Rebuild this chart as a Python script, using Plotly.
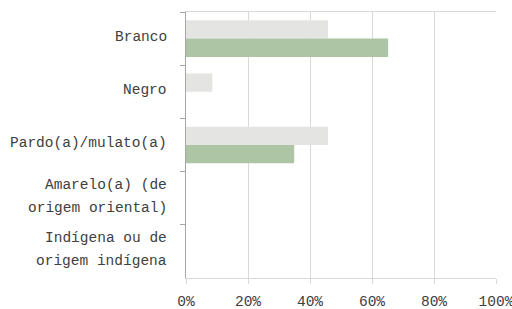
import plotly.graph_objects as go

categories = ["Branco", "Negro", "Pardo(a)/mulato(a)",
              "Amarelo(a) (de<br>origem oriental)",
              "Indígena ou de<br>origem indígena"]
series_a = [0.458, 0.085, 0.458, 0.0, 0.0]   # light gray
series_b = [0.652, 0.0, 0.349, 0.0, 0.0]     # green
x_ticks = [0, 0.2, 0.4, 0.6, 0.8, 1.0]
x_labels = ["0%", "20%", "40%", "60%", "80%", "100%"]

FONT = "Courier New, Liberation Mono, monospace"
FS = 14.5

fig = go.Figure()
fig.add_trace(go.Bar(y=categories, x=series_a, orientation="h",
                     marker=dict(color="#E4E5E2", line=dict(width=0))))
fig.add_trace(go.Bar(y=categories, x=series_b, orientation="h",
                     marker=dict(color="#ADC5A5", line=dict(width=0))))

annotations = []
for c in categories:
    lines = c.split("<br>")
    n = len(lines)
    for i, ln in enumerate(lines):
        shift = (-(i - (n - 1) / 2) * 23) + 2
        annotations.append(dict(x=0, xref="paper", y=c, yref="y", text=ln,
                                showarrow=False, xanchor="right", yanchor="middle",
                                xshift=-17, yshift=shift,
                                font=dict(family=FONT, size=FS, color="#404040")))

fig.update_layout(
    width=512, height=309,
    margin=dict(l=186, r=16, t=12, b=31, autoexpand=False),
    paper_bgcolor="white", plot_bgcolor="white",
    barmode="group", bargap=0.31, bargroupgap=0,
    showlegend=False,
    annotations=annotations,
    font=dict(family=FONT, size=FS, color="#404040"),
)
fig.update_xaxes(range=[0, 1], tickvals=x_ticks, ticktext=x_labels,
                 showgrid=True, gridcolor="#D9D9D9", gridwidth=1,
                 showline=True, linecolor="#D9D9D9", linewidth=1, mirror=True,
                 ticks="outside", ticklen=5, tickcolor="#D9D9D9",
                 ticklabelstandoff=5, zeroline=False, automargin=False,
                 ticklabeloverflow="allow",
                 tickfont=dict(family=FONT, size=FS, color="#404040"))
fig.update_yaxes(autorange="reversed", showticklabels=False, automargin=False,
                 showline=True, linecolor="#A6A6A6", linewidth=1,
                 ticks="outside", ticklen=5, tickcolor="#A6A6A6",
                 tickson="boundaries", showgrid=False, zeroline=False)

fig.write_html("out.html", config={"displayModeBar": False},
               post_script="document.body.style.margin='0';document.body.style.padding='0';document.body.style.overflow='hidden';")
